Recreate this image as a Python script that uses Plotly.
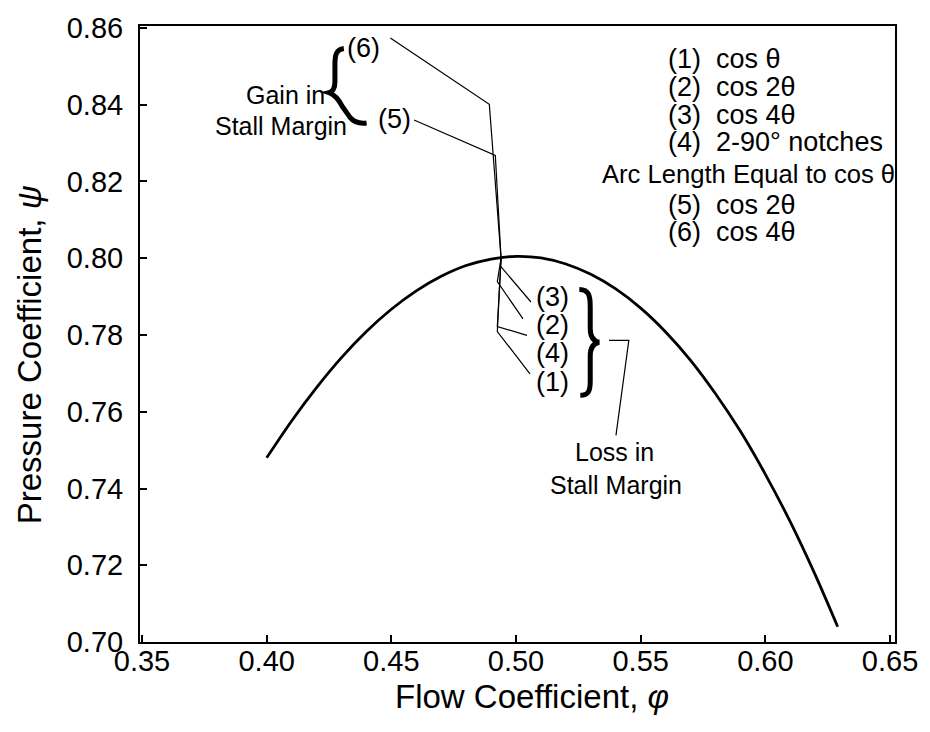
import plotly.graph_objects as go

# ---- data -------------------------------------------------------------
# Baseline compressor characteristic: flow coefficient vs pressure coefficient
phi_curve = [0.400, 0.410, 0.420, 0.430, 0.440, 0.450, 0.460, 0.470, 0.480,
             0.490, 0.500, 0.510, 0.520, 0.530, 0.540, 0.550, 0.560, 0.570,
             0.580, 0.590, 0.600, 0.610, 0.620, 0.629]
psi_curve = [0.7480, 0.7576, 0.7663, 0.7741, 0.7809, 0.7867, 0.7915, 0.7953,
             0.7981, 0.7998, 0.8005, 0.8001, 0.7985, 0.7958, 0.7920, 0.7870,
             0.7808, 0.7734, 0.7647, 0.7549, 0.7437, 0.7313, 0.7175, 0.7040]

# Baseline stall point (smooth casing)
base_stall_phi = 0.4940
base_stall_psi = 0.8000

# Stall points of the treated configurations (1)-(6) and their leader ends
config_ids = ["1", "2", "3", "4", "5", "6"]
stall_phi = [0.4925, 0.4925, 0.4937, 0.4925, 0.4917, 0.4893]
stall_psi = [0.7809, 0.7939, 0.7980, 0.7822, 0.8268, 0.8401]
leader_phi = [0.5056, 0.5028, 0.5060, 0.5044, 0.4591, 0.4496]
leader_psi = [0.7699, 0.7842, 0.7886, 0.7799, 0.8360, 0.8574]

# Axis ticks
x_ticks = [0.35, 0.40, 0.45, 0.50, 0.55, 0.60, 0.65]
y_ticks = [0.70, 0.72, 0.74, 0.76, 0.78, 0.80, 0.82, 0.84, 0.86]

# Key text
key_lines = ["(1)\u00a0 cos \u03b8", "(2)\u00a0 cos 2\u03b8", "(3)\u00a0 cos 4\u03b8",
             "(4)\u00a0 2-90\u00b0 notches"]
key_heading = "Arc Length Equal to cos \u03b8"
key_lines_arc = ["(5)\u00a0 cos 2\u03b8", "(6)\u00a0 cos 4\u03b8"]

# ---- layout geometry (pixels) -----------------------------------------
W, H = 930, 732
L, R, T, B = 140, 903, 13, 642
FONT = "Liberation Sans, Arial, Helvetica, sans-serif"


def px_x(p):
    return (p - L) / (R - L)


def px_y(p):
    return (B - p) / (B - T)


def path_px(segments):
    out = []
    for cmd, pts in segments:
        out.append(cmd + " " + " ".join(f"{px_x(a):.5f},{px_y(b):.5f}" for a, b in pts))
    return " ".join(out)


fig = go.Figure()

# Characteristic curve
fig.add_trace(go.Scatter(
    x=phi_curve, y=psi_curve, mode="lines",
    line=dict(color="black", width=2.8, shape="spline", smoothing=0.8),
    hoverinfo="skip", showlegend=False))

# Stall-point connectors: baseline stall -> configuration stall -> label
for i, cid in enumerate(config_ids):
    fig.add_trace(go.Scatter(
        x=[base_stall_phi, stall_phi[i], leader_phi[i]],
        y=[base_stall_psi, stall_psi[i], leader_psi[i]],
        mode="lines", line=dict(color="black", width=1.2),
        hoverinfo="skip", showlegend=False, name=f"({cid})"))

annotations = []


def label(text, x, y, size=27, xanchor="center"):
    annotations.append(dict(
        text=text, x=px_x(x), y=px_y(y), xref="paper", yref="paper",
        xanchor=xanchor, yanchor="middle", showarrow=False,
        font=dict(family=FONT, size=size, color="black")))


# Configuration labels
label("(6)", 366, 35)
label("(5)", 397, 108)
label("(3)", 557, 290)
label("(2)", 557, 318)
label("(4)", 557, 347)
label("(1)", 557, 377)

# Margin notes
label("Gain in", 287, 83, size=25)
label("Stall Margin", 282, 115, size=25)
label("Loss in", 620, 448, size=25)
label("Stall Margin", 621, 482, size=25)

# Key
key_y = [47, 75, 104, 131]
for t, yy in zip(key_lines, key_y):
    label(t, 672, yy, size=27, xanchor="left")
label(key_heading, 605, 164, size=25.6, xanchor="left")
for t, yy in zip(key_lines_arc, [196, 223]):
    label(t, 672, yy, size=27, xanchor="left")

# Axis titles
annotations.append(dict(
    text="Flow Coefficient, <i>\u03c6</i>", x=px_x(536), y=px_y(698),
    xref="paper", yref="paper", xanchor="center", yanchor="middle",
    showarrow=False, font=dict(family=FONT, size=33, color="black")))
annotations.append(dict(
    text="Pressure Coefficient, <i>\u03c8</i>", x=px_x(28), y=px_y(349),
    xref="paper", yref="paper", xanchor="center", yanchor="middle",
    textangle=-90, showarrow=False, font=dict(family=FONT, size=33, color="black")))

# Braces and the "Loss" pointer
shapes = [
    dict(type="path", xref="paper", yref="paper",
         path=path_px([("M", [(584, 282)]),
                       ("C", [(594, 282), (595, 289), (595, 300)]),
                       ("L", [(595, 322)]),
                       ("C", [(595, 331), (599, 335), (604, 336)]),
                       ("C", [(599, 337), (595, 341), (595, 350)]),
                       ("L", [(595, 376)]),
                       ("C", [(595, 386), (593, 390), (585, 390)])]),
         line=dict(color="black", width=5)),
    dict(type="path", xref="paper", yref="paper",
         path=path_px([("M", [(346, 36)]),
                       ("C", [(338, 37), (337, 43), (337, 52)]),
                       ("L", [(337, 70)]),
                       ("C", [(337, 77), (335, 80), (331, 81)]),
                       ("C", [(337, 83), (341, 88), (345, 96)]),
                       ("L", [(352, 106)]),
                       ("C", [(356, 111), (361, 113), (369, 112)])]),
         line=dict(color="black", width=5)),
    dict(type="path", xref="paper", yref="paper",
         path=path_px([("M", [(614, 334)]), ("L", [(634, 334)]), ("L", [(621, 431)])]),
         line=dict(color="black", width=1.2)),
]

axis_common = dict(
    showgrid=False, zeroline=False, showline=True, linecolor="black",
    linewidth=2, mirror=True, ticks="inside", ticklen=7, tickwidth=1.5,
    tickcolor="black", tickfont=dict(family=FONT, size=29, color="black"))

fig.update_layout(
    width=W, height=H,
    margin=dict(l=L, r=W - R, t=T, b=H - B, pad=0),
    paper_bgcolor="white", plot_bgcolor="white",
    xaxis=dict(range=[0.35 - 2 / 2520, 0.35 + 761 / 2520],
               tickvals=x_ticks, ticktext=[f"{v:.2f}" for v in x_ticks],
               ticklabelstandoff=-8, **axis_common),
    yaxis=dict(range=[0.86 - 627 / 3919, 0.86 + 2 / 3919],
               tickvals=y_ticks, ticktext=[f"{v:.2f}" for v in y_ticks],
               ticklabelstandoff=9, **axis_common),
    annotations=annotations, shapes=shapes,
    showlegend=False,
)

fig.write_html("out.html")
